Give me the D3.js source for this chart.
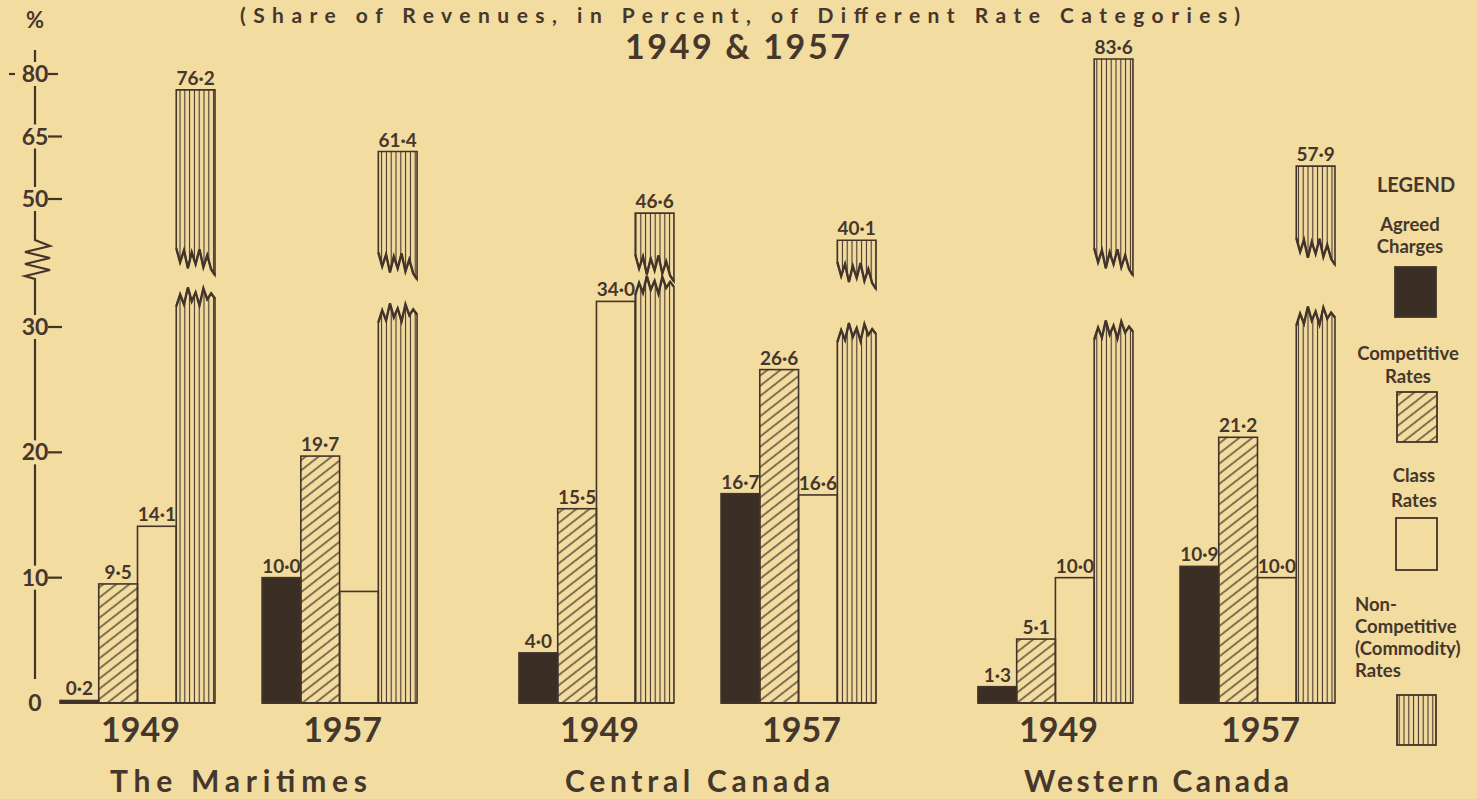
<!DOCTYPE html>
<html><head><meta charset="utf-8">
<script src="https://cdn.jsdelivr.net/npm/d3@7"></script>
<style>
html,body{margin:0;padding:0;background:#f3dda2;}
svg{display:block;}
text{font-family:Lato,"Liberation Sans",sans-serif;font-weight:700;fill:#45372b;}
</style></head><body>
<svg id="chart" width="1477" height="799"></svg>
<script>
// ---------- data ----------
const regions = ["The Maritimes", "Central Canada", "Western Canada"];
const years = ["1949", "1957"];
const categories = ["Agreed Charges", "Competitive Rates", "Class Rates", "Commodity Rates"];
// order of each series: Maritimes 1949, 1957, Central 1949, 1957, Western 1949, 1957
const agreed      = [0.2, 10.0, 4.0, 16.7, 1.3, 10.9];
const competitive = [9.5, 19.7, 15.5, 26.6, 5.1, 21.2];
const classRates  = [14.1, 8.9, 34.0, 16.6, 10.0, 10.0];
const commodity   = [76.2, 61.4, 46.6, 40.1, 83.6, 57.9];
const classLabelShown = [true, false, true, true, true, true];
// where the broken commodity bars are cut (value units on each side of the break)
const breakLower = [34.0, 31.5, 35.8, 29.2, 29.4, 31.0];
const breakUpper = [36.5, 35.5, 35.0, 33.2, 36.5, 39.0];
const lowerTicks = [0, 10, 20, 30];
const upperTicks = [50, 65, 80];
const legendItems = [
  {lines: ["Agreed", "Charges"], key: 0},
  {lines: ["Competitive", "Rates"], key: 1},
  {lines: ["Class", "Rates"], key: 2},
  {lines: ["Non-", "Competitive", "(Commodity)", "Rates"], key: 3}
];

// ---------- setup ----------
const ink = "#42342a", bg = "#f3dca0", dark = "#3b2e25";
const svg = d3.select("#chart");
const defs = svg.append("defs");
const hatch = defs.append("pattern").attr("id", "hatch").attr("patternUnits", "userSpaceOnUse")
  .attr("width", 8).attr("height", 8).attr("patternTransform", "rotate(-38)");
hatch.append("line").attr("x1", -1).attr("x2", 9).attr("y1", 4).attr("y2", 4)
  .attr("stroke", ink).attr("stroke-width", 1.3);
const vert = defs.append("pattern").attr("id", "vert").attr("patternUnits", "userSpaceOnUse")
  .attr("width", 4.8).attr("height", 10);
vert.append("line").attr("x1", 2.4).attr("x2", 2.4).attr("y1", -1).attr("y2", 11)
  .attr("stroke", ink).attr("stroke-width", 1.1);

svg.append("rect").attr("width", 1477).attr("height", 799).attr("fill", bg);

const x0 = d3.scaleBand().domain(regions).range([60, 1335]).paddingInner(0.222);
const x1 = d3.scaleBand().domain(years).range([0, x0.bandwidth()]).paddingInner(0.233);
const x2 = d3.scaleBand().domain(categories).range([0, x1.bandwidth()]);
const yLow = d3.scaleLinear().domain([0, 30, 50]).range([703, 327, 199]);
const yUp = d3.scaleLinear().domain([50, 80]).range([199, 74]);

const fmt = v => d3.format(".1f")(v).replace(".", "·");
const fills = ["" + dark, "url(#hatch)", "none", "url(#vert)"];
const series = [agreed, competitive, classRates, commodity];

// ---------- titles ----------
svg.append("text").attr("x", 240).attr("y", 23).attr("font-size", 21)
  .attr("textLength", 1000).attr("lengthAdjust", "spacing")
  .text("(Share of Revenues, in Percent, of Different Rate Categories)");
svg.append("text").attr("x", 625).attr("y", 59).attr("font-size", 34)
  .attr("textLength", 225).attr("lengthAdjust", "spacing").text("1949 & 1957");

// ---------- axis ----------
const ax = 35;
svg.append("text").attr("x", ax).attr("y", 28).attr("text-anchor", "middle").attr("font-size", 22).text("%");
const tickPos = [
  ...upperTicks.map(v => ({v, y: yUp(v)})),
  ...lowerTicks.map(v => ({v, y: yLow(v)}))
].sort((a, b) => a.y - b.y);
const zigTop = 234, zigBot = 283;
const stops = [50];
tickPos.forEach(t => { if (t.v !== 0) { stops.push(t.y - 12); stops.push(t.y + 12); } });
stops.push(679);
const segs = [];
for (let i = 0; i < stops.length; i += 2) segs.push([stops[i], stops[i + 1]]);
const segs2 = [];
segs.forEach(s => {
  if (s[0] < zigTop && s[1] > zigBot) { segs2.push([s[0], zigTop]); segs2.push([zigBot, s[1]]); }
  else segs2.push(s);
});
svg.selectAll(".axseg").data(segs2).join("line")
  .attr("x1", ax).attr("x2", ax).attr("y1", d => d[0]).attr("y2", d => d[1])
  .attr("stroke", ink).attr("stroke-width", 2.2);
svg.append("path").attr("fill", "none").attr("stroke", ink).attr("stroke-width", 2.2)
  .attr("d", d3.line()([[ax, zigTop], [ax, 240], [50, 246], [25, 252], [50, 258], [25, 264], [50, 270], [25, 276], [ax, 279], [ax, zigBot]]));
tickPos.forEach(t => {
  svg.append("text").attr("x", ax).attr("y", t.y + 8).attr("text-anchor", "middle")
    .attr("font-size", 23).text(t.v);
  if (t.v !== 0) {
    svg.append("line").attr("x1", 48).attr("x2", t.v === 80 ? 58 : 62).attr("y1", t.y).attr("y2", t.y)
      .attr("stroke", ink).attr("stroke-width", 2.2);
  }
  if (t.v === 80) {
    svg.append("line").attr("x1", 9).attr("x2", 15).attr("y1", t.y).attr("y2", t.y)
      .attr("stroke", ink).attr("stroke-width", 2.2);
  }
});

// ---------- bars ----------
const upperJag = [-7, 7, -5, 13, -3, 9, -6, 12, 0, 14, 20];
const lowerJag = [5, -7, 3, -14, 0, -9, 4, -13, -2, -8, -3];
const zig = (xa, xb, yb, offs) => offs.map((o, k) => [xa + (xb - xa) * k / (offs.length - 1), yb + o]);

for (let i = 0; i < 6; i++) {
  const region = regions[Math.floor(i / 2)], year = years[i % 2];
  const gx = x0(region) + x1(year);
  const g = svg.append("g");
  series.forEach((s, c) => {
    const v = s[i];
    const xa = gx + x2(categories[c]), xb = xa + x2.bandwidth();
    if (c === 3 && v > 30) {
      const top = yUp(v);
      const up = zig(xa, xb, yUp(breakUpper[i]), upperJag);
      g.append("path").attr("d", d3.line()([[xa, top], [xb, top], ...up.slice().reverse()]) + "Z")
        .attr("fill", fills[c]).attr("stroke", ink).attr("stroke-width", 1.6);
      g.append("path").attr("d", d3.line()(up)).attr("fill", "none").attr("stroke", ink).attr("stroke-width", 2.4);
      const lo = zig(xa, xb, yLow(breakLower[i]), lowerJag);
      g.append("path").attr("d", d3.line()([[xa, yLow(0)], ...lo, [xb, yLow(0)]]) + "Z")
        .attr("fill", fills[c]).attr("stroke", ink).attr("stroke-width", 1.6);
      g.append("path").attr("d", d3.line()(lo)).attr("fill", "none").attr("stroke", ink).attr("stroke-width", 2.4);
      g.append("text").attr("x", (xa + xb) / 2).attr("y", top - 5).attr("text-anchor", "middle")
        .attr("font-size", 19).text(fmt(v));
    } else {
      const top = yLow(v);
      g.append("rect").attr("x", xa).attr("y", top).attr("width", xb - xa).attr("height", yLow(0) - top)
        .attr("fill", fills[c]).attr("stroke", ink).attr("stroke-width", 1.6);
      if (!(c === 2 && !classLabelShown[i])) {
        g.append("text").attr("x", (xa + xb) / 2).attr("y", top - 5).attr("text-anchor", "middle")
          .attr("font-size", 19).text(fmt(v));
      }
    }
  });
  g.append("line").attr("x1", gx).attr("x2", gx + x1.bandwidth()).attr("y1", yLow(0)).attr("y2", yLow(0))
    .attr("stroke", ink).attr("stroke-width", 2);
  g.append("text").attr("x", gx + x1.bandwidth() / 2 + 3).attr("y", 742).attr("text-anchor", "middle")
    .attr("font-size", 34).text(year);
}
regions.forEach(r => {
  const w = r === "The Maritimes" ? 257 : 265;
  svg.append("text").attr("x", x0(r) + x0.bandwidth() / 2 - w / 2).attr("y", 792)
    .attr("font-size", 30).attr("textLength", w).attr("lengthAdjust", "spacing").text(r);
});

// ---------- legend ----------
svg.append("text").attr("x", 1416).attr("y", 192).attr("text-anchor", "middle").attr("font-size", 20).text("LEGEND");
const legPos = [
  {ys: [231, 253], box: [1395, 267, 41, 50], anchor: "middle", x: 1410},
  {ys: [360, 383], box: [1397, 392, 40, 50], anchor: "middle", x: 1408},
  {ys: [482, 507], box: [1396, 518, 41, 52], anchor: "middle", x: 1414},
  {ys: [611, 633, 655, 677], box: [1397, 695, 39, 50], anchor: "start", x: 1355}
];
legendItems.forEach((it, k) => {
  const p = legPos[k];
  it.lines.forEach((l, j) => svg.append("text").attr("x", p.x).attr("y", p.ys[j])
    .attr("text-anchor", p.anchor).attr("font-size", 18.5).text(l));
  svg.append("rect").attr("x", p.box[0]).attr("y", p.box[1]).attr("width", p.box[2]).attr("height", p.box[3])
    .attr("fill", fills[it.key]).attr("stroke", ink).attr("stroke-width", 1.8);
});
</script>
</body></html>
